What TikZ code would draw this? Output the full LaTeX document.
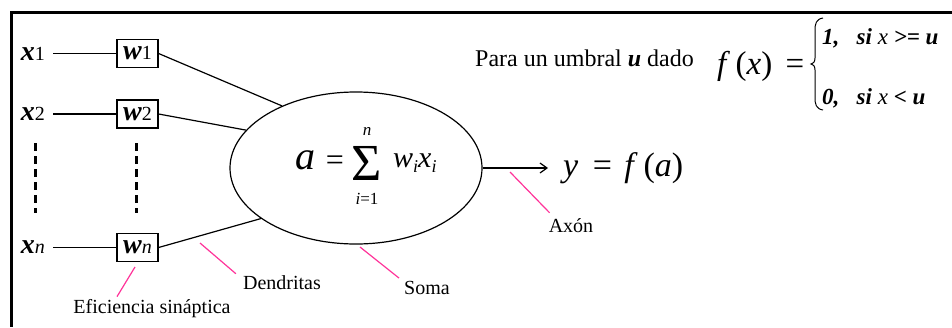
\documentclass[tikz,border=0pt]{standalone}
\usepackage{fontspec}
\setmainfont{Liberation Serif}
\usetikzlibrary{arrows.meta, shapes.geometric}

\definecolor{leadpink}{RGB}{255,51,153}
\newcommand\xsub[1]{{\fontsize{28}{30}\selectfont\bfseries\itshape x}{\fontsize{20}{22}\selectfont #1}}
\newcommand\wsub[1]{{\fontsize{28}{30}\selectfont\bfseries\itshape w}{\fontsize{20}{22}\selectfont #1}}
\newcommand\isub{\raisebox{-5pt}{\fontsize{18}{20}\selectfont\itshape i}}

\begin{document}
\begin{tikzpicture}[x=1pt, y=-1pt,
        wbox/.style={draw, line width=1.2pt, minimum width=41pt,
                     minimum height=28pt, inner sep=0pt},
        xin/.style={anchor=east, inner xsep=8pt, inner ysep=0pt},
        lbl/.style={font=\fontsize{20}{22}\selectfont, inner sep=0pt},
        eqn/.style={inner sep=0pt},
        wire/.style={line width=1.2pt},
        lead/.style={draw=leadpink, line width=1.2pt},
        vdots/.style={line width=3pt, dash pattern=on 8pt off 5pt},
        >={Straight Barb[length=7pt, width=10pt]}
    ]
        \useasboundingbox (0,0) rectangle (952,327);
        \draw[line width=3pt] (952,12) -- (11,12) -- (11,327);

        % inputs and weights
        \node[wbox] (w1) at (137.5,53.5) {\wsub{1}};
        \node[wbox] (w2) at (137.5,114) {\wsub{2}};
        \node[wbox] (wn) at (137.5,247.5) {\wsub{\itshape n}};
        \node[xin] (x1) at (53,53.5) {\xsub{1}};
        \node[xin] (x2) at (53,114) {\xsub{2}};
        \node[xin] (xn) at (53,247.5) {\xsub{\itshape n}};
        \draw[wire] (x1.east) -- (w1.west);
        \draw[wire] (x2.east) -- (w2.west);
        \draw[wire] (xn.east) -- (wn.west);
        \draw[vdots] (35,143) -- (35,213);
        \draw[vdots] (136,143) -- (136,213);

        % soma
        \node[ellipse, draw, line width=1.2pt, minimum width=252pt,
              minimum height=152pt, inner sep=0pt] (soma) at (356,168) {};
        \node[eqn, font=\fontsize{40}{42}\selectfont\itshape] (suma) at (305,160) {a};
        \node[eqn, font=\fontsize{32}{34}\selectfont] (sumeq) at (335,163) {=};
        \node[eqn, font=\fontsize{52}{54}\selectfont] (sigma) at (367,163) {Σ};
        \node[eqn, font=\fontsize{17}{19}\selectfont\itshape] (sumtop) at (367,131) {n};
        \node[eqn, font=\fontsize{17}{19}\selectfont] (sumbot) at (367,199) {\textit{i}=1};
        \node[eqn, anchor=west, font=\fontsize{30}{32}\selectfont\itshape]
            (wx) at (393,163) {w\isub x\isub};
        \draw[wire] (w1.east) -- (soma.140);
        \draw[wire] (w2.east) -- (soma.161);
        \draw[wire] (wn.east) -- (soma.208);

        % axon and output
        \node[eqn, anchor=west, font=\fontsize{34}{36}\selectfont]
            (yout) at (563,168) {\textit{y}\hspace{6pt} = \hspace{4pt}\textit{f}\,(\textit{a})};
        \draw[wire, ->] (soma.east) -- ([xshift=-15pt]yout.west);

        % labels
        \node[lbl] (axlbl) at (571,226) {Axón};
        \node[lbl] (dendlbl) at (282,283) {Dendritas};
        \node[lbl] (somalbl) at (427,288) {Soma};
        \node[lbl] (eflbl) at (152,309) {Eficiencia sináptica};
        \coordinate (axp) at (510,172);
        \coordinate (dendp) at (200,243);
        \coordinate (somap) at (360,247);
        \coordinate (efp) at (135,267);
        \draw[lead] (axp) -- ([shift={(1,-6)}]axlbl.north west);
        \draw[lead] (dendp) -- ([shift={(-7,-2)}]dendlbl.north west);
        \draw[lead] (somap) -- ([shift={(-5,-3)}]somalbl.north west);
        \draw[lead] (efp) -- ([shift={(-35,-3)}]eflbl.north);

        % threshold function
        \node[eqn, anchor=west, font=\fontsize{24}{26}\selectfont]
            (umbral) at (475,58) {Para un umbral \textbf{\textit{u}} dado};
        \node[eqn, anchor=west, font=\fontsize{33}{35}\selectfont]
            (fx) at (717,66) {\textit{f}\,(\textit{x})\hspace{5pt} =};
        \draw[line width=1pt] (823,18) .. controls (816,19) and (815,24) .. (815,30)
            -- (815,58) .. controls (815,62) and (813,64) .. (811,64)
            .. controls (813,64) and (815,66) .. (815,70) -- (815,98)
            .. controls (815,104) and (816,109) .. (823,110);
        \node[eqn, anchor=west, font=\fontsize{23}{25}\selectfont\bfseries\itshape]
            (case1) at (822,38) {1,~~ si \textmd{x} >= u};
        \node[eqn, anchor=west, font=\fontsize{23}{25}\selectfont\bfseries\itshape]
            (case0) at (822,98) {0,~~ si \textmd{x} < u};
    \end{tikzpicture}
\end{document}
